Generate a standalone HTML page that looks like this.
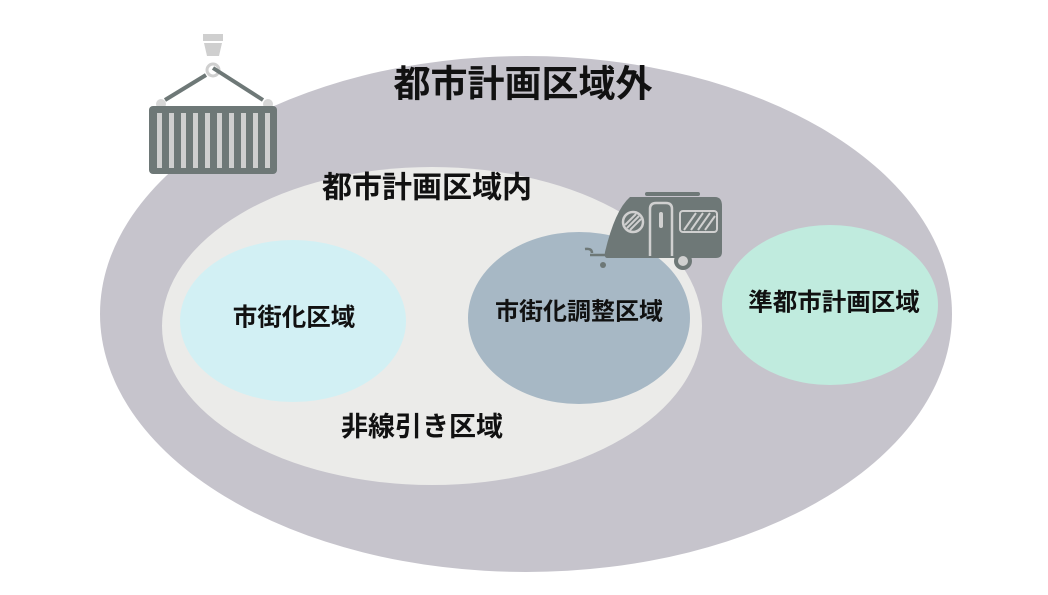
<!DOCTYPE html>
<html><head><meta charset="utf-8"><style>
body{margin:0;background:#fff;width:1048px;height:590px;overflow:hidden}
text{font-family:"Liberation Sans","Noto Sans CJK JP",sans-serif;font-weight:bold;fill:#111;text-anchor:middle;dominant-baseline:central}
</style></head><body>
<svg width="1048" height="590" viewBox="0 0 1048 590">
<ellipse cx="526" cy="314" rx="426" ry="258" fill="#c6c4cc"/>
<ellipse cx="432" cy="326" rx="270" ry="159" fill="#ebebe9"/>
<ellipse cx="293" cy="321" rx="113" ry="81" fill="#d2f0f4"/>
<ellipse cx="579" cy="318" rx="111" ry="86" fill="#a7b8c5"/>
<ellipse cx="830" cy="305" rx="108" ry="80" fill="#c0ebde"/>
<text x="523" y="84" font-size="37">都市計画区域外</text>
<text x="427" y="188" font-size="30">都市計画区域内</text>
<text x="294" y="318" font-size="24.5">市街化区域</text>
<text x="579" y="312" font-size="24">市街化調整区域</text>
<text x="834" y="303" font-size="24.5">準都市計画区域</text>
<text x="422" y="427" font-size="27">非線引き区域</text>
<!-- container -->
<g>
<rect x="203" y="34" width="20" height="7" fill="#cfcfcf"/>
<path d="M204 43 H222 L219 56 H207 Z" fill="#cfcfcf"/>
<circle cx="213" cy="70" r="6" fill="none" stroke="#cfcfcf" stroke-width="3"/>
<line x1="165" y1="100" x2="206" y2="75" stroke="#6e7877" stroke-width="4"/>
<line x1="213" y1="68" x2="263" y2="100" stroke="#6e7877" stroke-width="4"/>
<circle cx="161" cy="104" r="5" fill="#d7d7d7"/>
<circle cx="268" cy="104" r="5" fill="#d7d7d7"/>
<rect x="149" y="106" width="128" height="68" rx="4" fill="#6e7877"/>
<g fill="#cfcfcf">
<rect x="157" y="113" width="5" height="55"/><rect x="169" y="113" width="5" height="55"/><rect x="181" y="113" width="5" height="55"/><rect x="193" y="113" width="5" height="55"/><rect x="205" y="113" width="5" height="55"/><rect x="217" y="113" width="5" height="55"/><rect x="229" y="113" width="5" height="55"/><rect x="241" y="113" width="5" height="55"/><rect x="253" y="113" width="5" height="55"/><rect x="265" y="113" width="5" height="55"/>
</g>
</g>
<!-- trailer -->
<g>
<rect x="645" y="192" width="55" height="4" rx="2" fill="#6e7877"/>
<path d="M630 197 H715 Q722 197 722 206 V252 Q722 258 716 258 H607 Q604 258 605 252 Q615 210 630 197 Z" fill="#6e7877"/>
<circle cx="633" cy="222" r="10" fill="none" stroke="#d0d0d0" stroke-width="2.5"/>
<path d="M627 228 L639 216 M630 230 L641 219 M625 225 L636 214" stroke="#d0d0d0" stroke-width="2"/>
<path d="M650 256 V209 Q650 203 656 203 H666 Q672 203 672 209 V256" fill="none" stroke="#d0d0d0" stroke-width="2.5"/>
<rect x="659" y="212" width="4" height="16" rx="2" fill="#d0d0d0"/>
<rect x="680" y="211" width="37" height="21" rx="3" fill="none" stroke="#d0d0d0" stroke-width="2"/>
<path d="M684 230 L696 213 M691 230 L703 213 M698 230 L710 213 M705 230 L715 216" stroke="#d0d0d0" stroke-width="2"/>
<circle cx="683" cy="261" r="9" fill="#6e7877"/>
<circle cx="683" cy="261" r="5" fill="#d0d0d0"/>
<path d="M585 249 Q592 248 592 253 M590 255 H605" stroke="#6e7877" stroke-width="2.5" fill="none"/>
<circle cx="603" cy="265" r="3" fill="#6e7877"/>
</g>
</svg>
</body></html>
